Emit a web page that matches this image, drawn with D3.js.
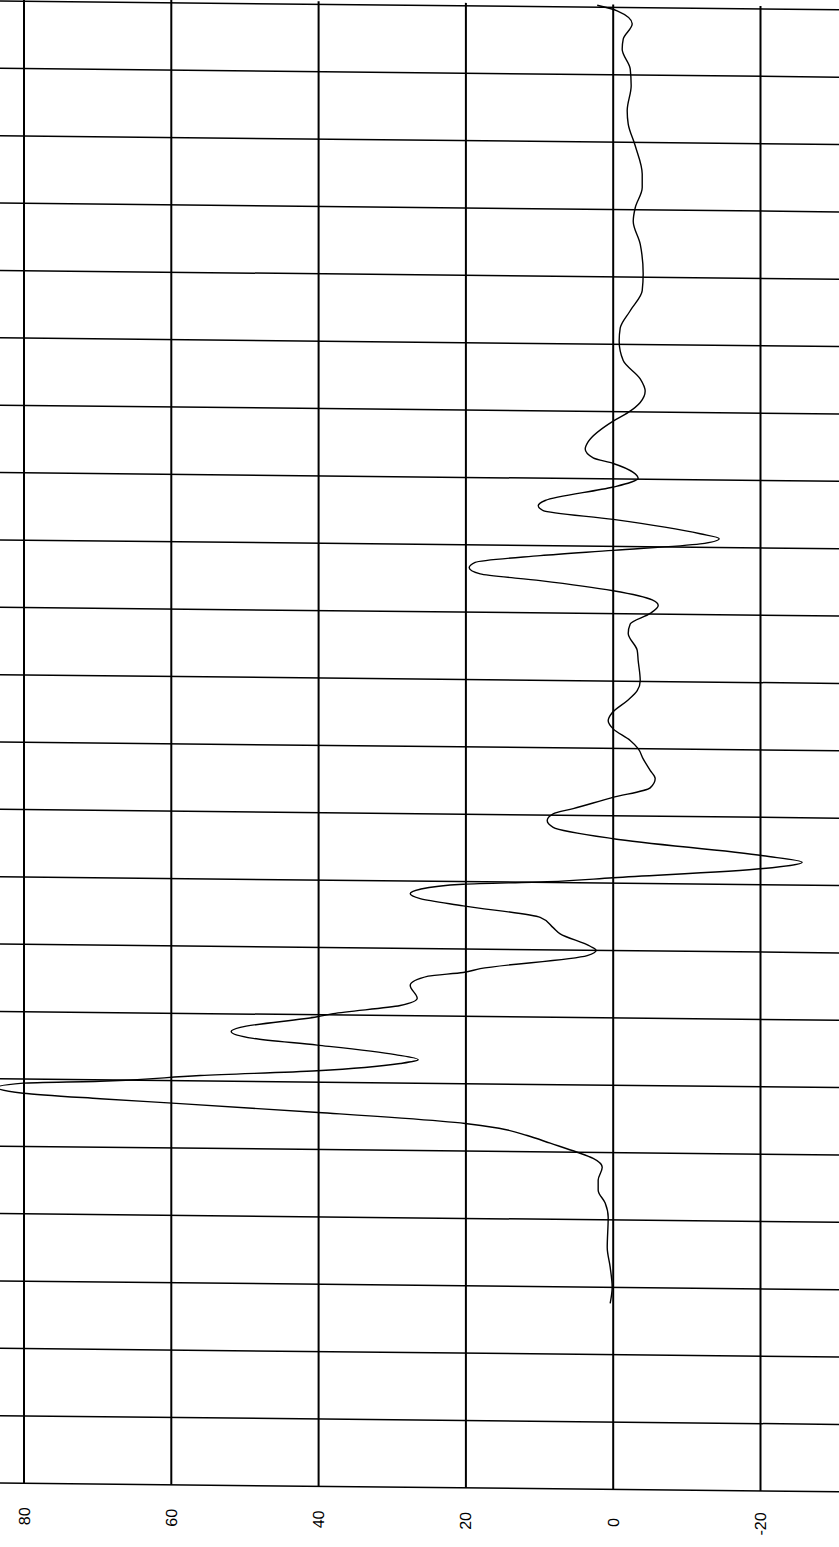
<!DOCTYPE html>
<html>
<head>
<meta charset="utf-8">
<script src="https://cdn.jsdelivr.net/npm/d3@7"></script>
<style>
  html, body { margin: 0; padding: 0; background: #fff; }
  svg { display: block; }
</style>
</head>
<body>
<div id="chart"></div>
<script>
// Value axis (horizontal on the page, decreasing to the right)
const valueTicks = [80, 60, 40, 20, 0, -20];
const valueTickLabels = ["80", "60", "40", "20", "0", "-20"];
// Time axis (vertical on the page) grid positions
const timeTicks = [0,1,2,3,4,5,6,7,8,9,10,11,12,13,14,15,16,17,18,19,20,21,22];

// Trace: time position and value
const traceT = [2.76,3.00,3.30,3.59,4.04,4.25,4.44,4.59,4.78,4.91,5.00,5.13,5.24,5.34,5.41,5.44,5.55,5.66,5.72,5.79,
  5.87,5.94,5.98,6.08,6.17,6.29,6.35,6.42,6.55,6.64,6.74,6.80,6.97,7.02,7.15,7.26,7.45,7.59,7.65,7.71,
  7.92,8.00,8.06,8.24,8.33,8.48,8.64,8.74,8.81,8.88,8.96,9.01,9.08,9.24,9.34,9.43,9.66,9.82,9.92,10.02,
  10.10,10.27,10.42,10.56,10.68,10.85,11.00,11.12,11.29,11.41,11.53,11.71,11.86,12.01,12.31,12.46,12.71,12.85,13.01,13.13,
  13.21,13.34,13.48,13.57,13.66,13.74,13.85,13.94,14.05,14.13,14.20,14.40,14.52,14.59,14.67,14.88,14.95,15.01,15.10,15.23,
  15.31,15.44,15.55,15.86,15.99,16.14,16.31,16.49,16.76,17.05,17.24,17.50,17.80,18.05,18.49,18.83,19.03,19.33,19.53,19.95,
  20.27,20.47,20.84,21.09,21.38,21.53,21.76,21.95,22.03];
const traceV = [0.41,0.14,0.41,0.81,0.68,1.09,2.04,2.04,1.49,2.72,4.89,8.55,11.68,15.34,20.10,23.49,40.05,58.79,69.65,80.11,
  83.64,80.11,69.65,56.08,40.19,28.92,26.48,29.60,40.19,48.88,51.87,50.64,40.19,38.02,28.92,26.61,27.56,25.12,20.37,18.06,
  3.53,2.31,3.12,7.20,8.15,9.91,20.37,26.21,27.56,26.21,20.37,8.96,0,-20.37,-25.66,-20.37,0,8.15,8.96,8.15,
  5.43,0.14,-5.02,-5.70,-5.02,-4.07,-3.39,-2.31,0,0.68,0.14,-1.90,-3.26,-3.67,-3.39,-3.26,-2.04,-2.31,-5.02,-6.11,
  -5.30,0,9.91,18.06,19.55,18.74,9.91,0,-11.81,-14.39,-11.81,0,9.50,10.18,9.23,0,-2.31,-3.39,-2.72,0,
  2.72,3.80,3.39,0,-2.04,-3.67,-4.34,-3.67,-1.36,-0.81,-0.95,-2.31,-3.94,-4.07,-3.67,-2.72,-2.99,-3.94,-3.94,-2.99,
  -2.04,-1.90,-2.44,-2.31,-1.22,-1.36,-2.58,-0.54,2.17];

const W = 839, H = 1547;
const svg = d3.select("#chart").append("svg")
  .attr("width", W).attr("height", H)
  .style("background", "#fff");

const x = d3.scaleLinear().domain([80, -20]).range([24, 760.5]);
const y = d3.scaleLinear().domain([0, 22]).range([1483, 1]);

const g = svg.append("g").attr("transform", "skewY(0.6)");

// horizontal grid lines (full width)
g.append("g").selectAll("line").data(timeTicks).join("line")
  .attr("x1", 0).attr("x2", W)
  .attr("y1", d => y(d)).attr("y2", d => y(d))
  .attr("stroke", "#000").attr("stroke-width", 1.5);

// vertical grid lines
g.append("g").selectAll("line").data(valueTicks).join("line")
  .attr("x1", d => x(d)).attr("x2", d => x(d))
  .attr("y1", y(22) - 3).attr("y2", y(0))
  .attr("stroke", "#000").attr("stroke-width", 2);

// tick labels (rotated)
g.append("g").selectAll("text").data(valueTicks).join("text")
  .attr("transform", d => `translate(${x(d) + 5.5},${1516}) rotate(-90)`)
  .attr("text-anchor", "middle")
  .attr("font-family", "Liberation Sans, Arial, sans-serif")
  .attr("font-size", 16)
  .attr("fill", "#000")
  .text((d, i) => valueTickLabels[i]);

// trace
const pts = traceT.map((t, i) => ({t, v: traceV[i]}));
const line = d3.line().x(d => x(d.v)).y(d => y(d.t)).curve(d3.curveMonotoneY);
g.append("path").datum(pts)
  .attr("d", line)
  .attr("fill", "none")
  .attr("stroke", "#000")
  .attr("stroke-width", 1.4);
</script>
</body>
</html>
